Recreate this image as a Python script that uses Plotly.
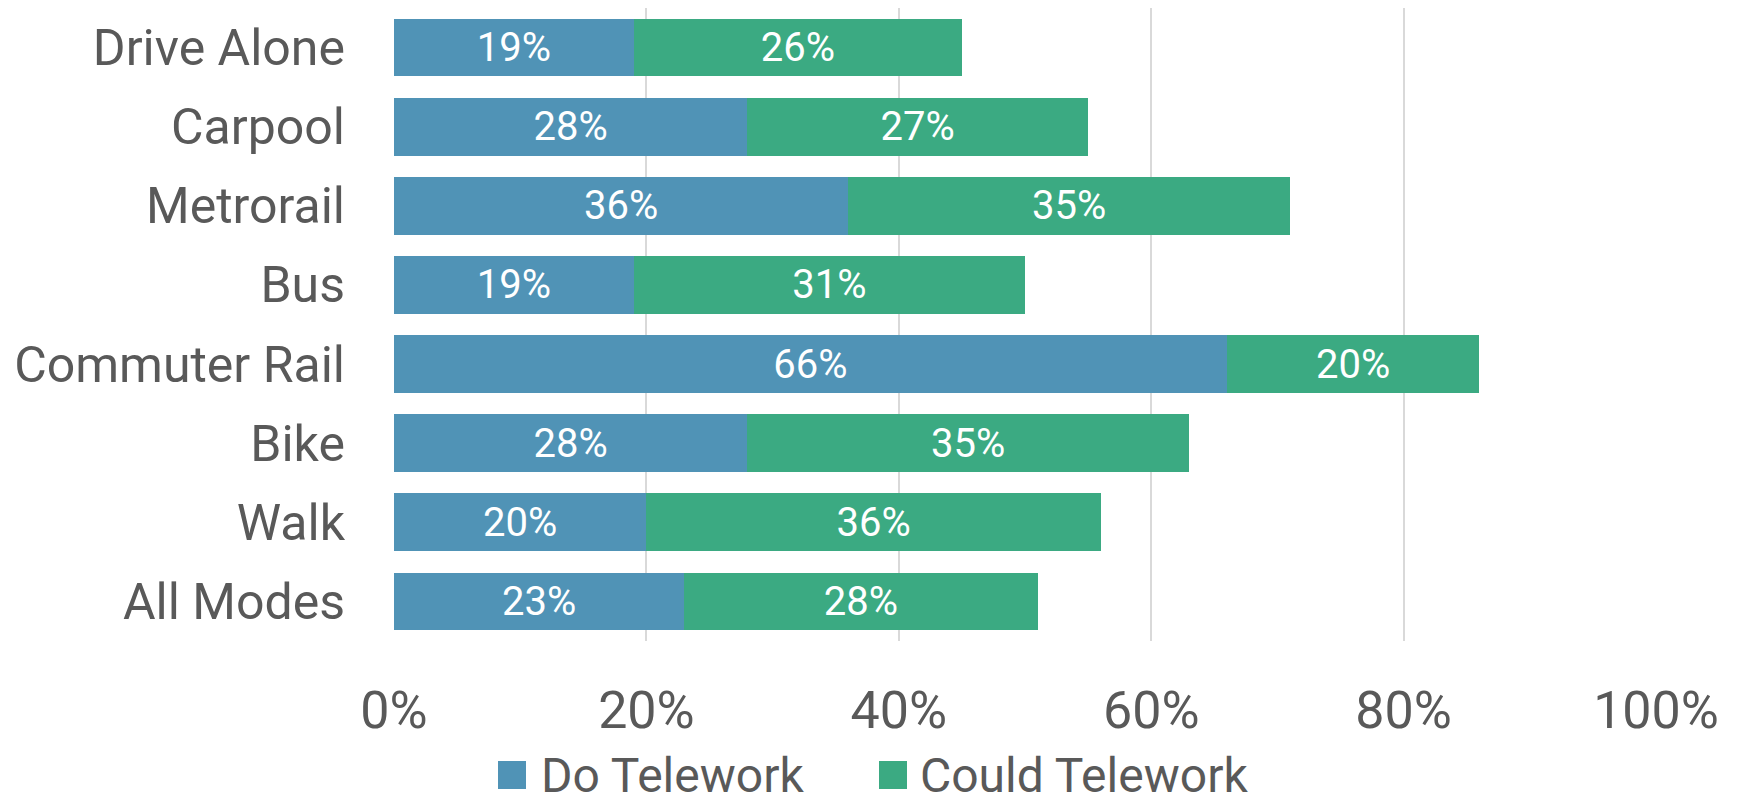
import plotly.graph_objects as go

categories = ["Drive Alone", "Carpool", "Metrorail", "Bus", "Commuter Rail", "Bike", "Walk", "All Modes"]
do_telework = [19, 28, 36, 19, 66, 28, 20, 23]
could_telework = [26, 27, 35, 31, 20, 35, 36, 28]
x_ticks = [0, 20, 40, 60, 80, 100]
x_tick_labels = ["0%", "20%", "40%", "60%", "80%", "100%"]
series_names = ["Do Telework", "Could Telework"]
series_colors = ["#5093B6", "#3BAA82"]

FONT = "Roboto, Liberation Sans, sans-serif"
GRAY = "#595959"

W, H = 1738, 809
ML, MR, MT, MB = 394, 82, 8, 168
PW, PH = W - ML - MR, H - MT - MB

fig = go.Figure()
for name, vals, col in zip(series_names, [do_telework, could_telework], series_colors):
    fig.add_trace(go.Bar(
        y=categories, x=vals, orientation="h", name=name,
        marker=dict(color=col, line=dict(width=0)),
        text=[f"{v}%" for v in vals], texttemplate="%{text}",
        textposition="inside", insidetextanchor="middle",
        textfont=dict(color="white", size=40, family=FONT),
        showlegend=False,
    ))

# custom legend (large square swatches like the reference)
def px_to_paper_x(px):
    return (px - ML) / PW

def px_to_paper_y(py):
    return (H - MB - py) / PH

legend_items = [(498, 540), (879, 919)]
sq = 28
cy = 775
for (sx, tx), name, col in zip(legend_items, series_names, series_colors):
    fig.add_shape(type="rect", xref="paper", yref="paper",
                  x0=px_to_paper_x(sx), x1=px_to_paper_x(sx + sq),
                  y0=px_to_paper_y(cy + sq / 2), y1=px_to_paper_y(cy - sq / 2),
                  fillcolor=col, line=dict(width=0))
    fig.add_annotation(xref="paper", yref="paper", x=px_to_paper_x(tx), y=px_to_paper_y(cy),
                       text=name, showarrow=False, xanchor="left", yanchor="middle",
                       borderpad=0,
                       font=dict(size=48, color=GRAY, family=FONT))

fig.update_layout(
    width=W, height=H,
    barmode="stack", bargap=0.27,
    plot_bgcolor="white", paper_bgcolor="white",
    margin=dict(l=ML, r=MR, t=MT, b=MB, autoexpand=False),
    font=dict(family=FONT, color=GRAY),
    uniformtext=dict(minsize=10, mode="show"),
    showlegend=False,
)
fig.update_xaxes(
    range=[0, 100], tickvals=x_ticks, ticktext=x_tick_labels,
    showgrid=True, gridcolor="#D9D9D9", gridwidth=2,
    zeroline=False, showline=False, automargin=False,
    tickfont=dict(size=52, color=GRAY, family=FONT),
    ticklabelstandoff=34,
)
fig.update_yaxes(
    autorange="reversed", showgrid=False, showline=False, automargin=False,
    tickfont=dict(size=50, color=GRAY, family=FONT),
    ticklabelstandoff=48,
)

fig.write_html("out.html", config={"displayModeBar": False},
               post_script="document.body.style.margin='0';")
